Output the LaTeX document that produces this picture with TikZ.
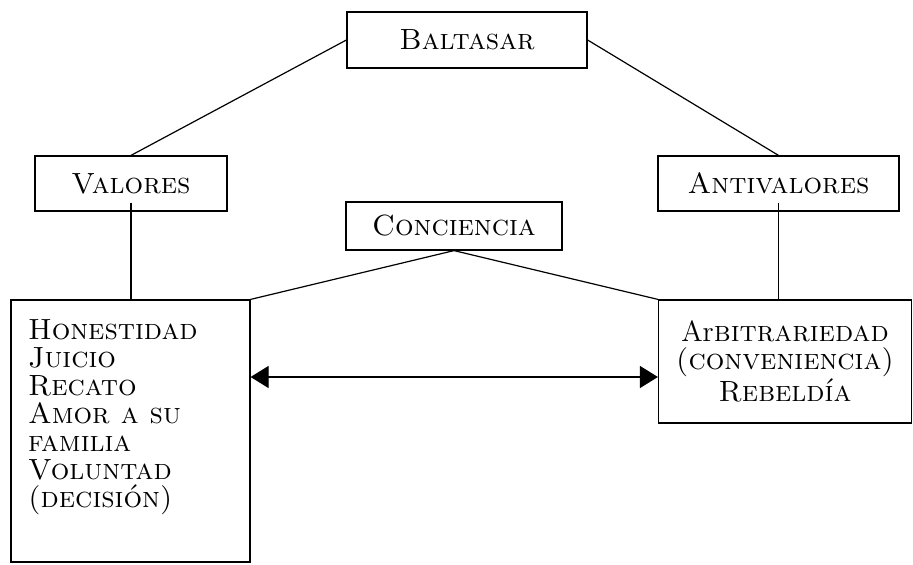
\documentclass[tikz,border=0pt]{standalone}
\usetikzlibrary{arrows.meta,calc}
\begin{document}
\begin{tikzpicture}[x=0.5pt,y=-0.5pt,line width=0.6pt,
		box/.style={draw,font=\fontsize{14.6}{14}\selectfont\scshape,inner sep=0pt},
		>={Triangle[length=9pt,width=11pt]}]
		\useasboundingbox (0,0) rectangle (913,565);
		\node[box,minimum width=120pt,minimum height=28pt] (balt) at (467,40) {Baltasar};
		\node[box,minimum width=96pt,minimum height=27.5pt] (val) at (131,183.5) {Valores};
		\node[box,minimum width=120.5pt,minimum height=27.5pt] (anti) at (778.5,183.5) {Antivalores};
		\node[box,minimum width=108pt,minimum height=24pt] (conc) at (454,226) {Conciencia};
		\node[box,inner xsep=8.5pt,inner ysep=10pt] (hon) at (130.5,431)
			{\parbox[c][111pt][t]{102.5pt}{\raggedright Honestidad\\Juicio\\Recato\\Amor a su\\familia\\Voluntad\\(decisión)}};
		\node[box,align=center,minimum width=126.5pt,minimum height=61.5pt] (arb) at (785,361.5)
			{{\upshape Ar}bitrariedad\\(conveniencia)\\Rebeldía};
		\coordinate (mid) at (454,377);
		\path (balt.west) edge (val.north)
			(balt.east) edge (anti.north)
			([yshift=4.5pt]val.south) edge (val.south |- hon.north)
			([yshift=4.5pt]anti.south) edge (anti.south |- arb.north)
			(conc.south) edge (hon.north east)
			(conc.south) edge (arb.north west);
		\draw[<->] (mid -| hon.east) -- (mid -| arb.west);
	\end{tikzpicture}
\end{document}
